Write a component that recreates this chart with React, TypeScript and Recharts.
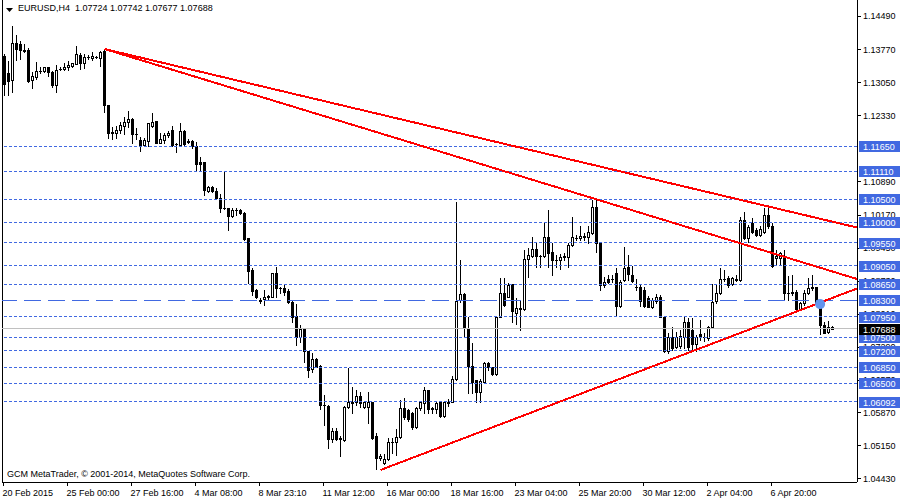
import { ComposedChart, Bar, XAxis, YAxis, ReferenceLine, ReferenceDot } from 'recharts'

const FONT = "Tahoma, 'Liberation Sans', Arial, sans-serif"

const SYMBOL = 'EURUSD,H4'
const COPYRIGHT = 'GCM MetaTrader, © 2001-2014, MetaQuotes Software Corp.'

// H4 candles, 20 Feb 2015 -> 7 Apr 2015
const OPEN = [
  1.1363, 1.1325, 1.1309, 1.1390, 1.1388, 1.1374, 1.1376, 1.1309,
  1.1316, 1.1329, 1.1330, 1.1337, 1.1327, 1.1299, 1.1333, 1.1333,
  1.1337, 1.1340, 1.1345, 1.1364, 1.1347, 1.1359, 1.1357, 1.1359,
  1.1358, 1.1372, 1.1255, 1.1195, 1.1194, 1.1201, 1.1210, 1.1218,
  1.1225, 1.1192, 1.1179, 1.1168, 1.1178, 1.1210, 1.1221, 1.1173,
  1.1179, 1.1189, 1.1201, 1.1170, 1.1168, 1.1199, 1.1175, 1.1178,
  1.1166, 1.1132, 1.1132, 1.1069, 1.1076, 1.1069, 1.1052, 1.1032,
  1.1031, 1.1014, 1.1027, 1.1027, 1.1021, 1.0965, 1.0896, 1.0853,
  1.0830, 1.0833, 1.0838, 1.0838, 1.0889, 1.0856, 1.0856, 1.0851,
  1.0827, 1.0796, 1.0750, 1.0769, 1.0719, 1.0681, 1.0703, 1.0687,
  1.0603, 1.0600, 1.0528, 1.0546, 1.0530, 1.0526, 1.0598, 1.0610,
  1.0608, 1.0622, 1.0598, 1.0599, 1.0608, 1.0535, 1.0487, 1.0476,
  1.0484, 1.0523, 1.0521, 1.0532, 1.0595, 1.0592, 1.0584, 1.0555,
  1.0595, 1.0606, 1.0635, 1.0595, 1.0593, 1.0608, 1.0579, 1.0606,
  1.0610, 1.0658, 1.0830, 1.0843, 1.0769, 1.0687, 1.0657, 1.0631,
  1.0653, 1.0693, 1.0685, 1.0670, 1.0795, 1.0846, 1.0838, 1.0865,
  1.0803, 1.0813, 1.0811, 1.0920, 1.0927, 1.0941, 1.0927, 1.0927,
  1.0969, 1.0936, 1.0918, 1.0917, 1.0925, 1.0924, 1.0951, 1.0965,
  1.0965, 1.0969, 1.0969, 1.0976, 1.1034, 1.0956, 1.0863, 1.0876,
  1.0877, 1.0889, 1.0818, 1.0875, 1.0902, 1.0885, 1.0859, 1.0860,
  1.0853, 1.0835, 1.0816, 1.0829, 1.0837, 1.0793, 1.0719, 1.0751,
  1.0729, 1.0731, 1.0751, 1.0782, 1.0766, 1.0735, 1.0757, 1.0751,
  1.0749, 1.0772, 1.0829, 1.0846, 1.0877, 1.0878, 1.0866, 1.0876,
  1.0875, 1.1004, 1.0965, 1.0998, 1.0983, 1.0972, 1.0980, 1.1016,
  1.0992, 1.0922, 1.0922, 1.0925, 1.0847, 1.0849, 1.0849, 1.0812,
  1.0824, 1.0846, 1.0859, 1.0859, 1.0824, 1.0777, 1.0762, 1.07724,
]
const HIGH = [
  1.1366, 1.1350, 1.1427, 1.1408, 1.1395, 1.1388, 1.1379, 1.1328,
  1.1349, 1.1339, 1.1339, 1.1339, 1.1330, 1.1342, 1.1338, 1.1347,
  1.1350, 1.1347, 1.1384, 1.1368, 1.1366, 1.1364, 1.1370, 1.1361,
  1.1373, 1.1375, 1.1255, 1.1208, 1.1210, 1.1219, 1.1229, 1.1242,
  1.1228, 1.1205, 1.1185, 1.1183, 1.1216, 1.1237, 1.1221, 1.1195,
  1.1195, 1.1199, 1.1210, 1.1173, 1.1217, 1.1201, 1.1181, 1.1179,
  1.1175, 1.1143, 1.1132, 1.1078, 1.1079, 1.1074, 1.1062, 1.1112,
  1.1032, 1.1031, 1.1031, 1.1028, 1.1023, 1.0965, 1.0900, 1.0854,
  1.0835, 1.0853, 1.0842, 1.0889, 1.0903, 1.0860, 1.0864, 1.0854,
  1.0831, 1.0822, 1.0777, 1.0770, 1.0719, 1.0715, 1.0704, 1.0689,
  1.0624, 1.0603, 1.0552, 1.0552, 1.0534, 1.0600, 1.0682, 1.0642,
  1.0635, 1.0631, 1.0610, 1.0631, 1.0610, 1.0541, 1.0496, 1.0496,
  1.0530, 1.0530, 1.0550, 1.0613, 1.0617, 1.0593, 1.0588, 1.0599,
  1.0610, 1.0642, 1.0635, 1.0599, 1.0610, 1.0610, 1.0610, 1.0616,
  1.0666, 1.1045, 1.0918, 1.0846, 1.0795, 1.0737, 1.0657, 1.0658,
  1.0695, 1.0695, 1.0686, 1.0796, 1.0878, 1.0878, 1.0867, 1.0865,
  1.0835, 1.0831, 1.0940, 1.0944, 1.0967, 1.0954, 1.0929, 1.0998,
  1.1027, 1.0954, 1.0929, 1.0931, 1.0933, 1.0954, 1.1012, 1.0972,
  1.0991, 1.0976, 1.0991, 1.1049, 1.1049, 1.0958, 1.0880, 1.0885,
  1.0885, 1.0900, 1.0875, 1.0947, 1.0929, 1.0905, 1.0877, 1.0864,
  1.0859, 1.0840, 1.0835, 1.0844, 1.0842, 1.0796, 1.0759, 1.0773,
  1.0762, 1.0766, 1.0796, 1.0791, 1.0792, 1.0755, 1.0787, 1.0759,
  1.0774, 1.0866, 1.0863, 1.0901, 1.0896, 1.0883, 1.0880, 1.0885,
  1.1012, 1.1023, 1.0995, 1.1009, 1.0988, 1.0991, 1.1031, 1.1031,
  1.0998, 1.0940, 1.0936, 1.0940, 1.0883, 1.0885, 1.0853, 1.0827,
  1.0853, 1.0878, 1.0885, 1.0860, 1.0829, 1.0784, 1.0785, 1.07742,
]
const LOW = [
  1.1277, 1.1276, 1.1283, 1.1353, 1.1355, 1.1371, 1.1305, 1.1292,
  1.1312, 1.1324, 1.1328, 1.1318, 1.1295, 1.1284, 1.1332, 1.1331,
  1.1332, 1.1338, 1.1344, 1.1333, 1.1335, 1.1355, 1.1354, 1.1358,
  1.1341, 1.1239, 1.1183, 1.1181, 1.1183, 1.1194, 1.1192, 1.1208,
  1.1172, 1.1181, 1.1156, 1.1165, 1.1165, 1.1208, 1.1172, 1.1172,
  1.1172, 1.1185, 1.1166, 1.1152, 1.1166, 1.1168, 1.1172, 1.1161,
  1.1114, 1.1114, 1.1060, 1.1065, 1.1067, 1.1051, 1.1023, 1.1028,
  1.0983, 1.1011, 1.1016, 1.1018, 1.0962, 1.0867, 1.0842, 1.0835,
  1.0824, 1.0820, 1.0831, 1.0837, 1.0838, 1.0846, 1.0842, 1.0825,
  1.0782, 1.0733, 1.0740, 1.0695, 1.0664, 1.0675, 1.0685, 1.0593,
  1.0559, 1.0508, 1.0523, 1.0526, 1.0492, 1.0525, 1.0595, 1.0584,
  1.0602, 1.0599, 1.0595, 1.0563, 1.0529, 1.0463, 1.0483, 1.0474,
  1.0483, 1.0497, 1.0494, 1.0530, 1.0571, 1.0568, 1.0550, 1.0552,
  1.0592, 1.0584, 1.0584, 1.0584, 1.0584, 1.0577, 1.0577, 1.0600,
  1.0608, 1.0657, 1.0827, 1.0753, 1.0628, 1.0628, 1.0610, 1.0610,
  1.0651, 1.0679, 1.0668, 1.0668, 1.0794, 1.0818, 1.0837, 1.0784,
  1.0779, 1.0766, 1.0809, 1.0882, 1.0925, 1.0902, 1.0903, 1.0925,
  1.0902, 1.0885, 1.0903, 1.0898, 1.0918, 1.0902, 1.0949, 1.0961,
  1.0961, 1.0961, 1.0954, 1.0975, 1.0936, 1.0853, 1.0860, 1.0867,
  1.0871, 1.0796, 1.0816, 1.0873, 1.0875, 1.0871, 1.0853, 1.0818,
  1.0816, 1.0815, 1.0813, 1.0824, 1.0793, 1.0717, 1.0715, 1.0722,
  1.0726, 1.0726, 1.0726, 1.0722, 1.0722, 1.0720, 1.0744, 1.0742,
  1.0744, 1.0771, 1.0824, 1.0844, 1.0873, 1.0860, 1.0863, 1.0873,
  1.0873, 1.0963, 1.0958, 1.0977, 1.0970, 1.0970, 1.0977, 1.0988,
  1.0903, 1.0907, 1.0907, 1.0831, 1.0831, 1.0842, 1.0811, 1.0809,
  1.0820, 1.0844, 1.0853, 1.0818, 1.0757, 1.0759, 1.0760, 1.07677,
]
const CLOSE = [
  1.1300, 1.1308, 1.1390, 1.1378, 1.1374, 1.1373, 1.1308, 1.1318,
  1.1329, 1.1330, 1.1337, 1.1327, 1.1299, 1.1332, 1.1334, 1.1339,
  1.1342, 1.1347, 1.1366, 1.1346, 1.1360, 1.1360, 1.1363, 1.1360,
  1.1371, 1.1255, 1.1194, 1.1196, 1.1201, 1.1212, 1.1218, 1.1225,
  1.1192, 1.1193, 1.1168, 1.1179, 1.1216, 1.1219, 1.1173, 1.1181,
  1.1190, 1.1195, 1.1168, 1.1171, 1.1199, 1.1170, 1.1176, 1.1165,
  1.1128, 1.1128, 1.1070, 1.1076, 1.1069, 1.1052, 1.1032, 1.1031,
  1.1014, 1.1027, 1.1026, 1.1020, 1.0963, 1.0893, 1.0851, 1.0838,
  1.0829, 1.0838, 1.0839, 1.0889, 1.0856, 1.0857, 1.0849, 1.0827,
  1.0795, 1.0750, 1.0767, 1.0719, 1.0679, 1.0703, 1.0686, 1.0603,
  1.0602, 1.0528, 1.0546, 1.0528, 1.0529, 1.0598, 1.0610, 1.0606,
  1.0622, 1.0607, 1.0608, 1.0610, 1.0530, 1.0487, 1.0492, 1.0484,
  1.0523, 1.0522, 1.0532, 1.0595, 1.0577, 1.0571, 1.0555, 1.0595,
  1.0608, 1.0635, 1.0593, 1.0594, 1.0606, 1.0579, 1.0608, 1.0610,
  1.0658, 1.0829, 1.0843, 1.0769, 1.0687, 1.0653, 1.0631, 1.0655,
  1.0693, 1.0685, 1.0670, 1.0795, 1.0846, 1.0820, 1.0864, 1.0806,
  1.0813, 1.0812, 1.0920, 1.0929, 1.0941, 1.0927, 1.0926, 1.0969,
  1.0934, 1.0917, 1.0917, 1.0925, 1.0926, 1.0951, 1.0967, 1.0966,
  1.0970, 1.0970, 1.0980, 1.1034, 1.0956, 1.0863, 1.0871, 1.0871,
  1.0876, 1.0818, 1.0871, 1.0900, 1.0888, 1.0873, 1.0860, 1.0829,
  1.0818, 1.0816, 1.0831, 1.0837, 1.0795, 1.0719, 1.0751, 1.0726,
  1.0751, 1.0753, 1.0782, 1.0728, 1.0735, 1.0751, 1.0751, 1.0750,
  1.0772, 1.0827, 1.0846, 1.0877, 1.0876, 1.0863, 1.0878, 1.0875,
  1.1004, 1.0965, 1.0990, 1.0980, 1.0972, 1.0985, 1.1016, 1.0992,
  1.0905, 1.0927, 1.0933, 1.0846, 1.0846, 1.0846, 1.0812, 1.0824,
  1.0846, 1.0856, 1.0858, 1.0824, 1.0777, 1.0760, 1.0772, 1.07688,
]

const TIME_TICKS = [0, 16, 32, 48, 64, 80, 96, 112, 128, 144, 160, 176, 192]
const TIME_LABELS = [
  '20 Feb 2015', '25 Feb 00:00', '27 Feb 16:00', '4 Mar 08:00', '8 Mar 23:10',
  '11 Mar 12:00', '16 Mar 00:00', '18 Mar 16:00', '23 Mar 04:00', '25 Mar 20:00',
  '30 Mar 12:00', '2 Apr 04:00', '6 Apr 20:00',
]
// price scale labels (1.11610 sits fully under the 1.11650 tag, so it is left out)
const PRICE_TICKS = [
  1.1449, 1.1377, 1.1305, 1.1233, 1.1089, 1.1017, 1.0945,
  1.0873, 1.0801, 1.0729, 1.0657, 1.0587, 1.0515, 1.0443,
]

// horizontal levels drawn on the chart
const LEVELS = [1.1165, 1.1111, 1.105, 1.1, 1.0955, 1.0905, 1.0865, 1.0795, 1.075, 1.072, 1.0685, 1.065, 1.06092]
const KEY_LEVEL = 1.083
const BID = 1.07688

const X_DOMAIN: [number, number] = [-0.625, 213.125]
const Y_DOMAIN: [number, number] = [1.04349, 1.14838]

// trend lines: [bar, price] -> [bar, price]
const TRENDS = [
  [[25, 1.13772], [213.125, 1.09887]],
  [[25, 1.13772], [213.125, 1.08767]],
  [[94, 1.0461], [213.125, 1.0856]],
]
const ANCHOR_DOT = { bar: 203.9, price: 1.0822 }

const BLUE = '#4169E1'

const candles = OPEN.map((o, i) => ({
  i,
  open: o,
  high: HIGH[i],
  low: LOW[i],
  close: CLOSE[i],
  range: [LOW[i], HIGH[i]],
}))

// plain scale labels first, then the tags, so tags paint on top
const Y_TICKS = [...PRICE_TICKS, ...LEVELS, KEY_LEVEL, BID]
const TAGGED = new Set([...LEVELS, KEY_LEVEL])

function Candle(props: any) {
  const { x, y, width, height, payload } = props
  if (x == null || !payload) return null
  const { open, high, low, close } = payload
  const top = Math.min(y, y + height)
  const h = Math.abs(height)
  const span = high - low || 1
  const toY = (v: number) => top + ((high - v) / span) * h
  const cx = Math.floor(x + width / 2)
  const yHi = Math.round(toY(high))
  const yLo = Math.round(toY(low))
  const yO = Math.round(toY(open))
  const yC = Math.round(toY(close))
  const bTop = Math.min(yO, yC)
  const bBot = Math.max(yO, yC)
  const bull = close > open
  return (
    <g shapeRendering="crispEdges">
      <rect x={cx} y={yHi} width={1} height={Math.max(1, yLo - yHi + 1)} fill="#000" />
      {bull && bBot > bTop ? (
        <rect x={cx - 0.5} y={bTop + 0.5} width={2} height={bBot - bTop} fill="#fff" stroke="#000" strokeWidth={1} />
      ) : (
        <rect x={cx - 1} y={bTop} width={3} height={bBot - bTop + 1} fill="#000" />
      )}
    </g>
  )
}

function PriceTick({ x, y, payload }: any) {
  const v = payload.value
  const label = v.toFixed(5)
  if (TAGGED.has(v) || v === BID) {
    const cy = Math.round(y)
    return (
      <g>
        <rect x={x - 4} y={cy - 5} width={45} height={11} fill={v === BID ? '#000' : BLUE} shapeRendering="crispEdges" />
        <text x={x} y={cy + 4} fill="#fff" fontSize={9} fontFamily={FONT}>{label}</text>
      </g>
    )
  }
  const yy = Math.round(y) + 0.5
  return (
    <g>
      <line x1={x - 6} x2={x - 2} y1={yy} y2={yy} stroke="#000" shapeRendering="crispEdges" />
      <text x={x} y={y + 3.5} fontSize={9} fontFamily={FONT} fill="#000">{label}</text>
    </g>
  )
}

function TimeTick({ x, y, payload }: any) {
  const k = TIME_TICKS.indexOf(payload.value)
  const xx = Math.floor(x) - 0.5
  return (
    <g>
      <line x1={xx} x2={xx} y1={y - 6} y2={y - 2} stroke="#000" shapeRendering="crispEdges" />
      <text x={xx - 1} y={y + 8} fontSize={9} fontFamily={FONT} fill="#000">{TIME_LABELS[k]}</text>
    </g>
  )
}

export default function App() {
  return (
    <div style={{ position: 'absolute', left: 0, top: 0, width: 900, height: 500, background: '#fff' }}>
      <ComposedChart
        width={900}
        height={500}
        data={candles}
        margin={{ top: 0, right: 0, bottom: 0, left: 2 }}
      >
        <XAxis
          dataKey="i"
          type="number"
          domain={X_DOMAIN}
          allowDataOverflow
          ticks={TIME_TICKS}
          interval={0}
          height={18}
          tickSize={4}
          tickMargin={2}
          tickLine={false}
          tick={<TimeTick />}
          axisLine={{ stroke: '#000', shapeRendering: 'crispEdges' }}
        />
        <YAxis
          orientation="right"
          type="number"
          domain={Y_DOMAIN}
          allowDataOverflow
          ticks={Y_TICKS}
          interval={0}
          width={43}
          tickSize={4}
          tickMargin={2}
          tickLine={false}
          tick={<PriceTick />}
          axisLine={{ stroke: '#000', shapeRendering: 'crispEdges' }}
        />
        <ReferenceLine x={X_DOMAIN[0]} stroke="#000" shapeRendering="crispEdges" />
        <ReferenceLine y={BID} stroke="#C0C0C0" shapeRendering="crispEdges" />
        {LEVELS.map((v) => (
          <ReferenceLine key={v} y={v} stroke={BLUE} strokeDasharray="3 2" shapeRendering="crispEdges" />
        ))}
        <ReferenceLine y={KEY_LEVEL} stroke={BLUE} strokeDasharray="17 7" shapeRendering="crispEdges" />
        <Bar dataKey="range" barSize={3} isAnimationActive={false} shape={<Candle />} />
        {TRENDS.map((t, k) => (
          <ReferenceLine
            key={k}
            segment={[{ x: t[0][0], y: t[0][1] }, { x: t[1][0], y: t[1][1] }]}
            stroke="#FF0000"
            strokeWidth={2}
            shapeRendering="crispEdges"
          />
        ))}
        <ReferenceDot x={ANCHOR_DOT.bar} y={ANCHOR_DOT.price} r={5} fill="#6495ED" stroke="none" />
      </ComposedChart>
      <svg style={{ position: 'absolute', left: 6, top: 8 }} width={8} height={6}>
        <polygon points="0,0 7,0 3.5,4" fill="#000" />
      </svg>
      <div style={{ position: 'absolute', left: 18, top: 3, fontFamily: FONT, fontSize: 9, color: '#000', whiteSpace: 'pre' }}>
        {`${SYMBOL}  ${OPEN[OPEN.length - 1].toFixed(5)} ${HIGH[HIGH.length - 1].toFixed(5)} ${LOW[LOW.length - 1].toFixed(5)} ${CLOSE[CLOSE.length - 1].toFixed(5)}`}
      </div>
      <div style={{ position: 'absolute', left: 7, top: 469, fontFamily: FONT, fontSize: 9, color: '#000', whiteSpace: 'pre' }}>
        {COPYRIGHT}
      </div>
    </div>
  )
}
